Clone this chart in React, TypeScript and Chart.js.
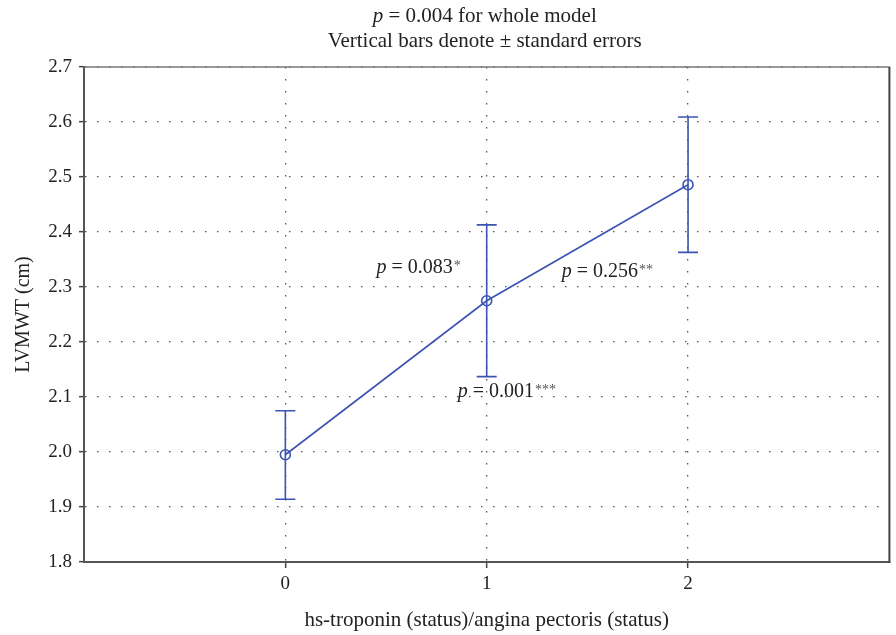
import React, { useEffect, useRef } from "react";
import { Chart, registerables } from "chart.js";

Chart.register(...registerables);

const categories = [0, 1, 2];
const means = [1.995, 2.275, 2.486];
const upper = [2.075, 2.413, 2.609];
const lower = [1.914, 2.137, 2.363];
const yTicks = [1.8, 1.9, 2.0, 2.1, 2.2, 2.3, 2.4, 2.5, 2.6, 2.7];
const xTicks = [0, 1, 2];
const titleLine1 = ["p", " = 0.004 for whole model"];
const titleLine2 = "Vertical bars denote \u00b1 standard errors";
const annotations = [
  { x: 0.453, y: 2.3255, p: "p", rest: " = 0.083", stars: "*" },
  { x: 1.373, y: 2.318, p: "p", rest: " = 0.256", stars: "**" },
  { x: 0.856, y: 2.1, p: "p", rest: " = 0.001", stars: "***" },
];

const BLUE = "#3b54b3";
const FONT = "'Liberation Serif', 'DejaVu Serif', serif";
const FS = 19;
const TFS = 21;
const AFS = 20;

const overlayPlugin = {
  id: "overlay",
  afterDatasetsDraw(chart: any) {
    const ctx = chart.ctx;
    const xs = chart.scales.x;
    const ys = chart.scales.y;
    ctx.save();
    ctx.strokeStyle = BLUE;
    ctx.lineWidth = 1.6;
    for (let i = 0; i < categories.length; i++) {
      const px = xs.getPixelForValue(categories[i]);
      const pt = ys.getPixelForValue(upper[i]);
      const pb = ys.getPixelForValue(lower[i]);
      ctx.beginPath();
      ctx.moveTo(px, pt);
      ctx.lineTo(px, pb);
      ctx.moveTo(px - 10, pt);
      ctx.lineTo(px + 10, pt);
      ctx.moveTo(px - 10, pb);
      ctx.lineTo(px + 10, pb);
      ctx.stroke();
    }
    ctx.restore();
  },
  afterDraw(chart: any) {
    const ctx = chart.ctx;
    const ca = chart.chartArea;
    const xs = chart.scales.x;
    const ys = chart.scales.y;
    ctx.save();
    // top and right frame
    ctx.strokeStyle = "#777";
    ctx.lineWidth = 1.5;
    ctx.beginPath();
    ctx.moveTo(ca.left, ca.top);
    ctx.lineTo(ca.right, ca.top);
    ctx.stroke();
    ctx.strokeStyle = "#444";
    ctx.lineWidth = 2;
    ctx.beginPath();
    ctx.moveTo(ca.right, ca.top);
    ctx.lineTo(ca.right, ca.bottom + 1);
    ctx.stroke();

    ctx.fillStyle = "#222";
    ctx.textBaseline = "alphabetic";
    // title
    const cx = (ca.left + ca.right) / 2 - 2;
    ctx.font = `italic ${TFS}px ${FONT}`;
    const w1 = ctx.measureText(titleLine1[0]).width;
    ctx.font = `${TFS}px ${FONT}`;
    const w2 = ctx.measureText(titleLine1[1]).width;
    const sx = cx - (w1 + w2) / 2;
    ctx.textAlign = "left";
    ctx.font = `italic ${TFS}px ${FONT}`;
    ctx.fillText(titleLine1[0], sx, 22);
    ctx.font = `${TFS}px ${FONT}`;
    ctx.fillText(titleLine1[1], sx + w1, 22);
    ctx.textAlign = "center";
    ctx.fillText(titleLine2, cx, 47);

    // annotations
    ctx.textAlign = "left";
    for (const a of annotations) {
      const px = xs.getPixelForValue(a.x);
      const py = ys.getPixelForValue(a.y);
      ctx.font = `italic ${AFS}px ${FONT}`;
      ctx.fillText(a.p, px, py);
      const pw = ctx.measureText(a.p).width;
      ctx.font = `${AFS}px ${FONT}`;
      ctx.fillText(a.rest, px + pw, py);
      const rw = ctx.measureText(a.rest).width;
      ctx.font = `14px ${FONT}`;
      ctx.fillStyle = "#555";
      ctx.fillText(a.stars, px + pw + rw + 1, py - 3);
      ctx.fillStyle = "#222";
    }
    ctx.restore();
  },
};

export default function App() {
  const ref = useRef<HTMLCanvasElement>(null);
  useEffect(() => {
    if (!ref.current) return;
    const gridCommon = {
      color: "#555",
      lineWidth: 1.3,
      tickColor: "#444",
      tickWidth: 1.5,
      tickBorderDash: [],
    };
    const borderCommon = { display: true, color: "#555", width: 2, dash: [1.5, 10.5] };
    const chart = new Chart(ref.current, {
      type: "line",
      data: {
        datasets: [
          {
            data: categories.map((c, i) => ({ x: c, y: means[i] })),
            borderColor: BLUE,
            borderWidth: 1.6,
            pointRadius: 5,
            pointBorderWidth: 1.6,
            pointBackgroundColor: "rgba(0,0,0,0)",
            pointBorderColor: BLUE,
            tension: 0,
          },
        ],
      },
      plugins: [overlayPlugin],
      options: {
        animation: false,
        responsive: false,
        layout: { padding: { top: 67, right: 4, left: 0, bottom: 0 } },
        plugins: { legend: { display: false }, title: { display: false }, tooltip: { enabled: false } },
        scales: {
          x: {
            type: "linear",
            min: -1,
            max: 3,
            afterBuildTicks: (s: any) => {
              s.ticks = xTicks.map((v) => ({ value: v }));
            },
            afterFit: (s: any) => {
              s.height = 73;
            },
            ticks: {
              color: "#222",
              font: { family: FONT, size: FS },
              padding: 5,
              callback: (v: any) => String(v),
            },
            grid: { ...gridCommon, tickLength: 6 },
            border: borderCommon,
            title: {
              display: true,
              text: "hs-troponin (status)/angina pectoris (status)",
              color: "#222",
              font: { family: FONT, size: TFS },
              padding: { top: 0, bottom: 2 },
            },
          },
          y: {
            type: "linear",
            min: 1.8,
            max: 2.7,
            afterBuildTicks: (s: any) => {
              s.ticks = yTicks.map((v) => ({ value: v }));
            },
            afterFit: (s: any) => {
              s.width = 84;
            },
            ticks: {
              color: "#222",
              font: { family: FONT, size: FS },
              padding: 7,
              callback: (v: any) => Number(v).toFixed(1),
            },
            grid: { ...gridCommon, tickLength: 5 },
            border: borderCommon,
            title: {
              display: true,
              text: "LVMWT (cm)",
              color: "#222",
              font: { family: FONT, size: 20 },
              padding: { top: 12, bottom: 0 },
            },
          },
        },
      },
    } as any);
    return () => chart.destroy();
  }, []);
  return (
    <div style={{ position: "absolute", left: 0, top: 0, width: 896, height: 635 }}>
      <canvas ref={ref} width={896} height={635} />
    </div>
  );
}
